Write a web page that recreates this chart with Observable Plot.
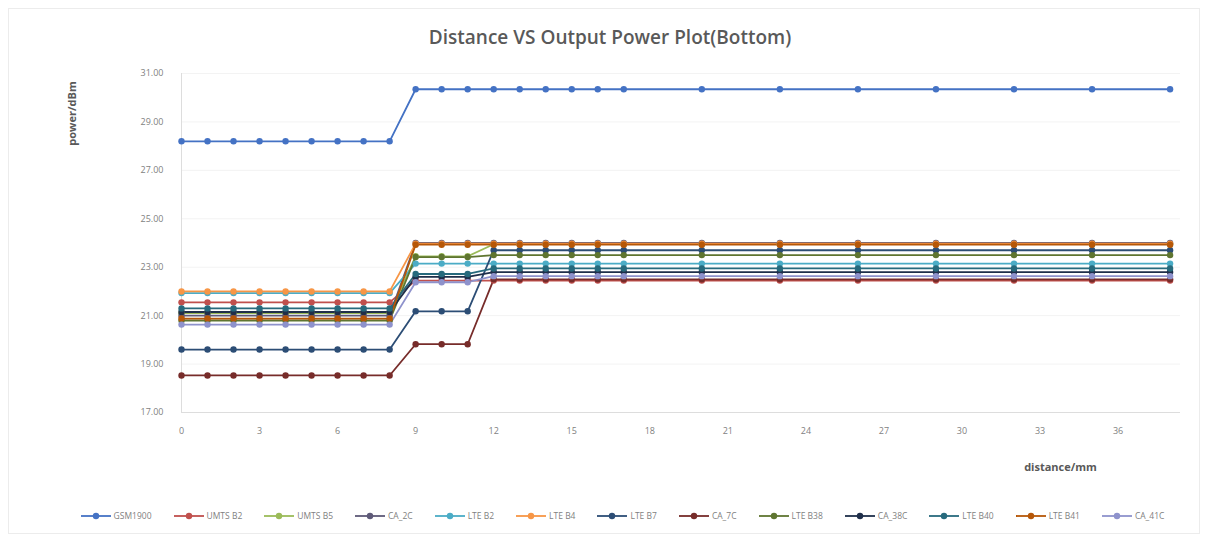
<!DOCTYPE html>
<html>
<head>
<meta charset="utf-8">
<script src="https://cdn.jsdelivr.net/npm/d3@7"></script>
<script src="https://cdn.jsdelivr.net/npm/@observablehq/plot@0.6"></script>
<style>
  html, body { margin: 0; padding: 0; background: #fff; }
  #wrap { position: relative; width: 1208px; height: 538px; font-family: "Open Sans", sans-serif; }
  #frame { position: absolute; left: 8px; top: 8px; width: 1192px; height: 526px; border: 1px solid #ececec; box-sizing: border-box; }
  #title { position: absolute; left: 0; top: 24px; width: 1220px; text-align: center; font-size: 19px; font-weight: 600; color: #595959; }
  #chart { position: absolute; left: 0; top: 60px; }
  #legend { position: absolute; left: 0; top: 510px; width: 1245px; display: flex; justify-content: center; gap: 22px; font-size: 8.5px; color: #7f7f7f; }
  .item { display: flex; align-items: center; gap: 3px; }
</style>
</head>
<body>
<div id="wrap">
  <div id="frame"></div>
  <div id="title">Distance VS Output Power Plot(Bottom)</div>
  <div id="chart"></div>
  <div id="legend"></div>
</div>
<script>
const distance = [0,1,2,3,4,5,6,7,8,9,10,11,12,13,14,15,16,17,20,23,26,29,32,35,38];

const seriesNames = ["GSM1900","UMTS B2","UMTS B5","CA_2C","LTE B2","LTE B4","LTE B7","CA_7C","LTE B38","CA_38C","LTE B40","LTE B41","CA_41C"];
const seriesColors = ["#4472C4","#C0504D","#9BBB59","#5E5A78","#4BACC6","#F79646","#2C4D75","#772C2A","#5F7530","#1F2F4A","#276A7D","#B65708","#8E92CC"];

const GSM1900 = [28.2,28.2,28.2,28.2,28.2,28.2,28.2,28.2,28.2,30.35,30.35,30.35,30.35,30.35,30.35,30.35,30.35,30.35,30.35,30.35,30.35,30.35,30.35,30.35,30.35];
const UMTS_B2 = [21.55,21.55,21.55,21.55,21.55,21.55,21.55,21.55,21.55,22.45,22.45,22.45,22.45,22.45,22.45,22.45,22.45,22.45,22.45,22.45,22.45,22.45,22.45,22.45,22.45];
const UMTS_B5 = [21.1,21.1,21.1,21.1,21.1,21.1,21.1,21.1,21.1,23.45,23.45,23.45,23.95,23.95,23.95,23.95,23.95,23.95,23.95,23.95,23.95,23.95,23.95,23.95,23.95];
const CA_2C = [21.0,21.0,21.0,21.0,21.0,21.0,21.0,21.0,21.0,24.0,24.0,24.0,24.0,24.0,24.0,24.0,24.0,24.0,24.0,24.0,24.0,24.0,24.0,24.0,24.0];
const LTE_B2 = [21.93,21.93,21.93,21.93,21.93,21.93,21.93,21.93,21.93,23.15,23.15,23.15,23.15,23.15,23.15,23.15,23.15,23.15,23.15,23.15,23.15,23.15,23.15,23.15,23.15];
const LTE_B4 = [22.0,22.0,22.0,22.0,22.0,22.0,22.0,22.0,22.0,23.97,23.97,23.97,23.97,23.97,23.97,23.97,23.97,23.97,23.97,23.97,23.97,23.97,23.97,23.97,23.97];
const LTE_B7 = [19.6,19.6,19.6,19.6,19.6,19.6,19.6,19.6,19.6,21.18,21.18,21.18,23.7,23.7,23.7,23.7,23.7,23.7,23.7,23.7,23.7,23.7,23.7,23.7,23.7];
const CA_7C = [18.53,18.53,18.53,18.53,18.53,18.53,18.53,18.53,18.53,19.82,19.82,19.82,22.5,22.5,22.5,22.5,22.5,22.5,22.5,22.5,22.5,22.5,22.5,22.5,22.5];
const LTE_B38 = [20.8,20.8,20.8,20.8,20.8,20.8,20.8,20.8,20.8,23.42,23.42,23.42,23.5,23.5,23.5,23.5,23.5,23.5,23.5,23.5,23.5,23.5,23.5,23.5,23.5];
const CA_38C = [21.15,21.15,21.15,21.15,21.15,21.15,21.15,21.15,21.15,22.6,22.6,22.6,22.8,22.8,22.8,22.8,22.8,22.8,22.8,22.8,22.8,22.8,22.8,22.8,22.8];
const LTE_B40 = [21.3,21.3,21.3,21.3,21.3,21.3,21.3,21.3,21.3,22.72,22.72,22.72,22.95,22.95,22.95,22.95,22.95,22.95,22.95,22.95,22.95,22.95,22.95,22.95,22.95];
const LTE_B41 = [20.88,20.88,20.88,20.88,20.88,20.88,20.88,20.88,20.88,23.93,23.93,23.93,23.93,23.93,23.93,23.93,23.93,23.93,23.93,23.93,23.93,23.93,23.93,23.93,23.93];
const CA_41C = [20.63,20.63,20.63,20.63,20.63,20.63,20.63,20.63,20.63,22.38,22.38,22.38,22.63,22.63,22.63,22.63,22.63,22.63,22.63,22.63,22.63,22.63,22.63,22.63,22.63];

const yTicks = [17,19,21,23,25,27,29,31];
const xTicks = [0,3,6,9,12,15,18,21,24,27,30,33,36];

const seriesValues = [GSM1900,UMTS_B2,UMTS_B5,CA_2C,LTE_B2,LTE_B4,LTE_B7,CA_7C,LTE_B38,CA_38C,LTE_B40,LTE_B41,CA_41C];

const rows = [];
seriesNames.forEach((name, i) => {
  seriesValues[i].forEach((v, j) => rows.push({series: name, distance: distance[j], power: v}));
});

const fmt = d3.format(".2f");

const plot = Plot.plot({
  width: 1208,
  height: 440,
  marginLeft: 181,
  marginRight: 28,
  marginTop: 13,
  marginBottom: 88,
  style: {fontFamily: "Open Sans, sans-serif", fontSize: "9px", color: "#7f7f7f", background: "transparent"},
  x: {domain: [0, 38.4], ticks: xTicks, label: null},
  y: {domain: [17, 31], ticks: yTicks, label: null, tickFormat: fmt},
  color: {domain: seriesNames, range: seriesColors},
  marks: [
    Plot.gridY(yTicks, {stroke: "#f3f3f3", strokeOpacity: 1}),
    Plot.ruleX([0], {stroke: "#dddddd"}),
    Plot.ruleY([17], {stroke: "#dddddd"}),
    Plot.axisY({ticks: yTicks, tickFormat: fmt, tickSize: 0, tickPadding: 18, fill: "#7f7f7f"}),
    Plot.axisX({ticks: xTicks, tickSize: 0, tickPadding: 15, fill: "#7f7f7f"}),
    Plot.line(rows, {x: "distance", y: "power", z: "series", stroke: "series", strokeWidth: 1.8}),
    Plot.dot(rows, {x: "distance", y: "power", fill: "series", r: 3.2}),
    Plot.text(["distance/mm"], {frameAnchor: "bottom-right", dx: -120, dy: 58, textAnchor: "middle", fontWeight: "bold", fontSize: 11, fill: "#595959"}),
    Plot.text(["power/dBm"], {frameAnchor: "top-left", dx: -113, dy: 40, rotate: -90, textAnchor: "middle", fontWeight: "bold", fontSize: 11, fill: "#595959"})
  ]
});
document.getElementById("chart").appendChild(plot);

const legend = document.getElementById("legend");
seriesNames.forEach((name, i) => {
  const item = document.createElement("div");
  item.className = "item";
  const c = seriesColors[i];
  item.innerHTML = `<svg width="30" height="8"><line x1="0" y1="4" x2="30" y2="4" stroke="${c}" stroke-width="1.8"/><circle cx="15" cy="4" r="3.2" fill="${c}"/></svg><span>${name}</span>`;
  legend.appendChild(item);
});
</script>
</body>
</html>
